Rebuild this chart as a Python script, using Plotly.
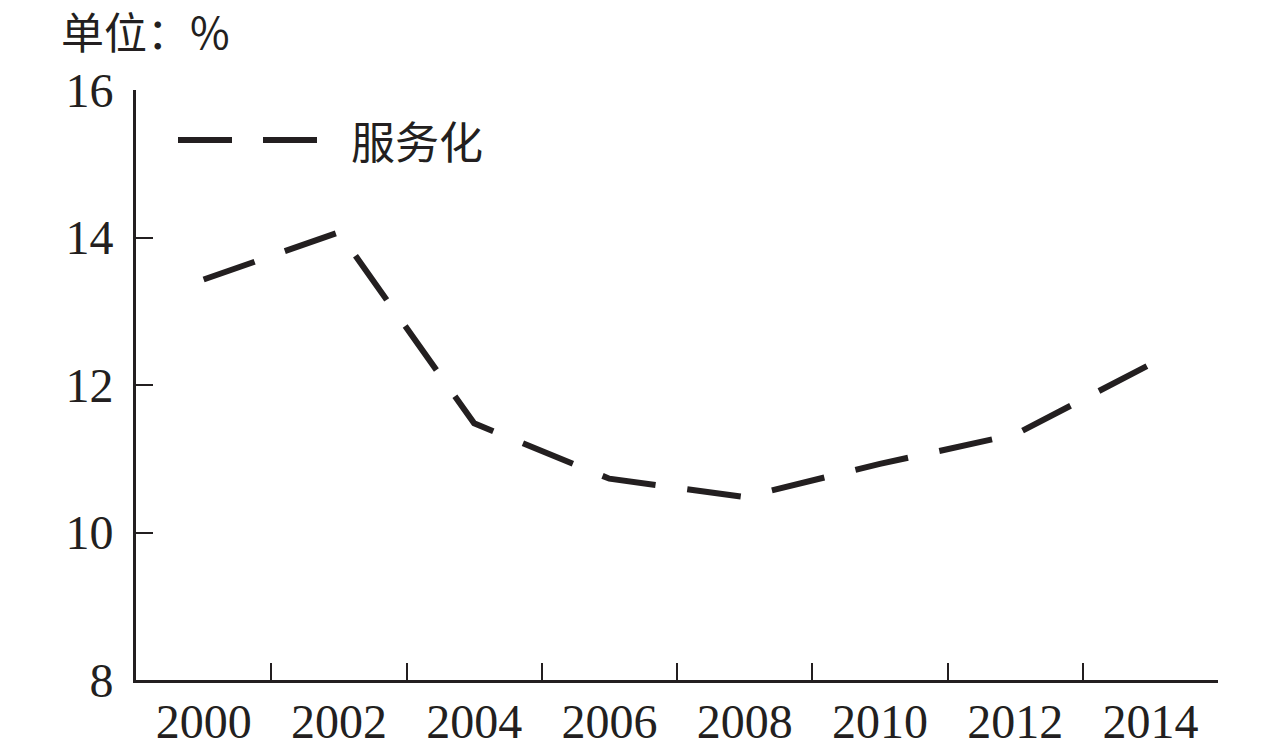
import plotly.graph_objects as go

# 服务化 share by year (unit: %)
years = ["2000", "2002", "2004", "2006", "2008", "2010", "2012", "2014"]
servitization = [13.43, 14.07, 11.48, 10.73, 10.48, 10.93, 11.33, 12.28]
series_name = "服务化"
unit_label = "单位：%"

ink = "#231f20"
serif = "Liberation Serif, Times New Roman, serif"
cjk = "Noto Sans CJK SC, sans-serif"

# the page adds an 8px body margin, margins below are compensated for it
fig = go.Figure()
fig.add_trace(
    go.Scatter(
        x=years,
        y=servitization,
        mode="lines",
        name=series_name,
        line=dict(color=ink, width=6, dash="54px,32px"),
        showlegend=False,
    )
)

# hand-made legend so the dash sample is as long as in the original
fig.add_shape(
    type="line",
    xref="paper", yref="paper",
    x0=(178 - 136) / 1082, x1=(317 - 136) / 1082,
    y0=(680 - 140) / 590, y1=(680 - 140) / 590,
    line=dict(color=ink, width=6, dash="54px,31px"),
)
fig.add_annotation(
    text=series_name,
    xref="paper", yref="paper",
    x=(349 - 136) / 1082, y=(680 - 140) / 590,
    xanchor="left", yanchor="middle",
    showarrow=False,
    font=dict(family=cjk, size=44, color=ink),
)
fig.add_annotation(
    text=unit_label,
    xref="paper", yref="paper",
    x=(60 - 136) / 1082, y=(680 - 30) / 590,
    xanchor="left", yanchor="middle",
    showarrow=False,
    borderpad=0,
    font=dict(family=cjk, size=43, color=ink),
)

fig.update_layout(
    width=1280,
    height=751,
    margin=dict(l=128, r=70, t=82, b=79),
    plot_bgcolor="white",
    paper_bgcolor="white",
)
fig.update_xaxes(
    type="category",
    range=[-0.5, 7.5],
    automargin=False,
    tickson="boundaries",
    ticks="inside",
    ticklen=17,
    tickwidth=2,
    tickcolor=ink,
    showline=True,
    linewidth=3,
    linecolor=ink,
    showgrid=False,
    tickfont=dict(family=serif, size=48, color=ink),
    ticklabelstandoff=-3,
)
fig.update_yaxes(
    range=[8, 16],
    dtick=2,
    automargin=False,
    ticks="inside",
    ticklen=17,
    tickwidth=2,
    tickcolor=ink,
    showline=True,
    linewidth=3,
    linecolor=ink,
    showgrid=False,
    zeroline=False,
    tickfont=dict(family=serif, size=48, color=ink),
    ticklabelstandoff=10,
)

fig.write_html("out.html")
